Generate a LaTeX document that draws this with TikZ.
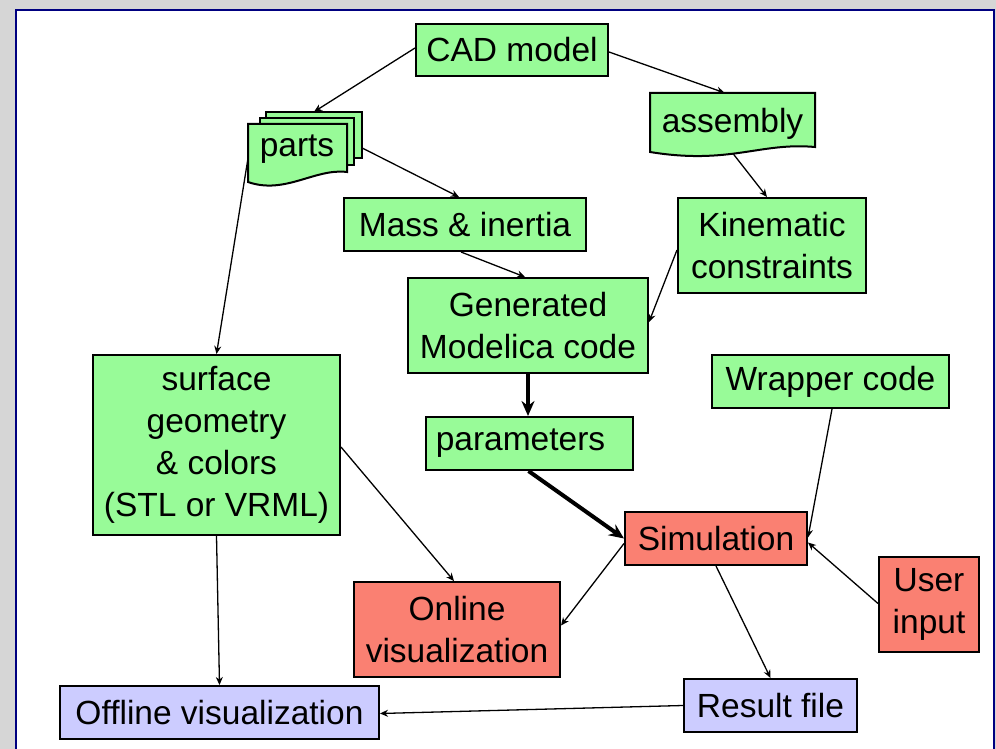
\documentclass[tikz,border=0pt]{standalone}
\usepackage{fontspec}
\setmainfont{Liberation Sans}
\usetikzlibrary{arrows.meta}
\definecolor{bgc}{RGB}{214,214,214}
\definecolor{navyc}{RGB}{0,0,128}
\definecolor{pgreen}{RGB}{152,251,152}
\definecolor{salmonc}{RGB}{250,128,114}
\definecolor{lavc}{RGB}{204,204,255}
\begin{document}
\begin{tikzpicture}[x=1pt,y=-1pt,
  txt/.style={inner sep=0pt, align=center, font=\fontsize{33.5}{42}\selectfont},
  box/.style={txt, draw=black, line width=2pt},
  gbox/.style={box, fill=pgreen},
  rbox/.style={box, fill=salmonc},
  bbox/.style={box, fill=lavc},
  docshape/.style={draw=black, line width=2pt, fill=pgreen},
  conn/.style={line width=1.3pt, -{Stealth[length=8pt,width=7pt]}},
  heavy/.style={line width=4pt, -{Stealth[length=15pt,width=13pt]}}
]
\useasboundingbox (0,0) rectangle (996,749);
\fill[bgc] (0,0) rectangle (996,749);
\fill[white] (16,10) rectangle (994,760);
\draw[navyc, line width=2pt] (16,760) -- (16,10) -- (994,10) -- (994,760);

% parts (stacked documents)
\draw[docshape] (266,112) rectangle (362,158);
\draw[docshape] (260,118) rectangle (354,165);
\draw[docshape] (248,124) -- (347,124) -- (347,172) .. controls (315,168) and (285,195) .. (248,182) -- cycle;
\node[txt, minimum width=114pt, minimum height=75pt] (parts) at (305,149.5) {\hspace*{-16pt}\raisebox{4pt}{parts}};

% assembly (document)
\draw[docshape] (650,93) -- (815,93) -- (815,147) .. controls (760,142) and (730,165) .. (650,152) -- cycle;
\node[txt, minimum width=165pt, minimum height=62pt] (asm) at (732.5,124) {\raisebox{2pt}{assembly}};

\node[gbox, minimum width=192pt, minimum height=52pt] (cad) at (512,50) {CAD model};
\node[gbox, minimum width=242pt, minimum height=53pt] (mass) at (465,224.5) {Mass \& inertia};
\node[gbox, minimum width=188pt, minimum height=95pt] (kin) at (772,245.5) {Kinematic\\constraints};
\node[gbox, minimum width=240pt, minimum height=95pt] (gen) at (528,325.5) {Generated\\Modelica code};
\node[gbox, minimum width=247pt, minimum height=180pt] (surf) at (216.5,445) {surface\\geometry\\\& colors\\(STL or VRML)};
\node[gbox, minimum width=237pt, minimum height=53pt] (wrap) at (830.5,381.5) {Wrapper code};
\node[gbox, minimum width=207pt, minimum height=53pt] (param) at (529.5,443.5) {\hspace*{-18pt}parameters};
\node[rbox, minimum width=182pt, minimum height=53pt] (sim) at (716,538.5) {Simulation};
\node[rbox, minimum width=100pt, minimum height=95pt] (user) at (929,604.5) {User\\input};
\node[rbox, minimum width=206pt, minimum height=95pt] (online) at (457,629.5) {Online\\visualization};
\node[bbox, minimum width=319pt, minimum height=53pt] (offline) at (219.5,712.5) {Offline visualization};
\node[bbox, minimum width=173pt, minimum height=53pt] (result) at (770.5,705.5) {Result file};

% connectors
\draw[conn] ([yshift=2pt]cad.west) -- ([xshift=9pt]parts.north);
\draw[conn] ([yshift=-2pt]cad.east) -- ([xshift=-8pt]asm.north);
\draw[conn] ([yshift=1.5pt]parts.east) -- ([xshift=-6pt]mass.north);
\draw[conn] ([yshift=-10pt]parts.west) -- (surf.north);
\draw[conn] ([xshift=1pt,yshift=1pt]asm.south) -- ([xshift=-5pt]kin.north);
\draw[conn] ([xshift=-4pt]mass.south) -- ([xshift=-3pt]gen.north);
\draw[conn] ([yshift=-4.5pt]kin.west) -- ([yshift=3.5pt]gen.east);
\draw[heavy] (gen.south) -- (gen.south |- param.north);
\draw[heavy] ([xshift=-1pt]param.south) -- (sim.west);
\draw[conn] ([xshift=1.5pt]wrap.south) -- ([yshift=1pt]sim.east);
\draw[conn] ([yshift=1pt]user.west) -- ([yshift=-4pt]sim.east);
\draw[conn] ([yshift=-5pt]sim.west) -- ([yshift=4pt]online.east);
\draw[conn] ([yshift=-2pt]surf.east) -- ([xshift=-3pt]online.north);
\draw[conn] (surf.south) -- (offline.north);
\draw[conn] (sim.south) -- (result.north);
\draw[conn] (result.west) -- ([yshift=-1pt]offline.east);
\end{tikzpicture}
\end{document}
